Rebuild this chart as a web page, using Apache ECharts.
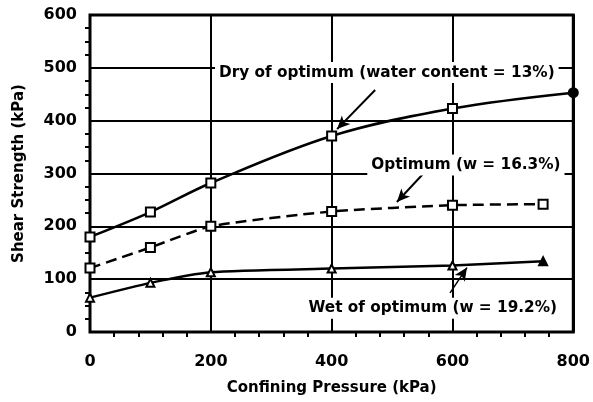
<!DOCTYPE html>
<html><head><meta charset="utf-8">
<script src="https://cdn.jsdelivr.net/npm/echarts@6/dist/echarts.min.js"></script>
<style>html,body{margin:0;padding:0;background:#fff}#c{width:593px;height:402px}</style>
</head><body><div id="c"></div>
<script>
// Data
const dryX = [0, 100, 200, 400, 600, 800];
const dryY = [180, 227, 282, 371, 423, 453];
const optX = [0, 100, 200, 400, 600, 750];
const optY = [121, 160, 200, 228, 240, 242];
const wetX = [0, 100, 200, 400, 600, 750];
const wetY = [65, 93, 113, 120, 126, 134];
const xTicks = [0, 200, 400, 600, 800];
const yTicks = [0, 100, 200, 300, 400, 500, 600];
const labelTexts = ['Dry of optimum (water content = 13%)', 'Optimum (w = 16.3%)', 'Wet of optimum (w = 19.2%)'];
const labelAnchors = [[207, 491], [459, 316], [355, 45]];
const arrows = [[[472, 458], [409, 384]], [[560, 310], [508, 246]], [[596, 74], [624, 122]]];

const FONT = 'DejaVu Sans';
const chart = echarts.init(document.getElementById('c'), null, {renderer: 'canvas'});
function pts(xs, ys) { return xs.map((x, i) => [x, ys[i]]); }
function arrowLine(a) {
  return [{coord: a[0], symbol: 'none'}, {coord: a[1], symbol: 'arrow', symbolSize: [9, 13]}];
}
const blk = '#000';
const option = {
  animation: false,
  grid: {left: 90, right: 17, top: 15, bottom: 70, show: true, borderColor: blk, borderWidth: 3},
  xAxis: {
    type: 'value', min: 0, max: 800, interval: 200,
    name: 'Confining Pressure (kPa)', nameLocation: 'middle', nameGap: 49,
    nameTextStyle: {fontFamily: FONT, fontWeight: 'bold', fontSize: 15, color: blk},
    axisLine: {show: false},
    axisTick: {show: false},
    minorTick: {show: true, splitNumber: 5, length: 5, lineStyle: {color: blk, width: 2}},
    axisLabel: {fontFamily: FONT, fontWeight: 'bold', fontSize: 16, color: blk, margin: 22,
      formatter: v => xTicks.includes(v) ? String(v) : ''},
    splitLine: {show: true, lineStyle: {color: blk, width: 2}}
  },
  yAxis: {
    type: 'value', min: 0, max: 600, interval: 100,
    name: 'Shear Strength (kPa)', nameLocation: 'middle', nameGap: 63, nameRotate: 90,
    nameTextStyle: {fontFamily: FONT, fontWeight: 'bold', fontSize: 15, color: blk},
    axisLine: {show: false},
    axisTick: {show: false},
    minorTick: {show: true, splitNumber: 4, length: 5, lineStyle: {color: blk, width: 2}},
    axisLabel: {fontFamily: FONT, fontWeight: 'bold', fontSize: 16, color: blk, margin: 13,
      formatter: v => yTicks.includes(v) ? String(v) : ''},
    splitLine: {show: true, lineStyle: {color: blk, width: 2}}
  },
  series: [
    {
      type: 'line', data: pts(dryX, dryY), smooth: 0.35, z: 5,
      lineStyle: {color: blk, width: 2.5},
      symbol: 'rect', symbolSize: 9,
      itemStyle: {color: '#fff', borderColor: blk, borderWidth: 2},
      markLine: {silent: true, symbol: ['none', 'arrow'], label: {show: false},
        lineStyle: {color: blk, width: 2, type: 'solid'}, data: [arrowLine(arrows[0])]}
    },
    {
      type: 'line', data: pts(optX, optY), smooth: 0.2, z: 5,
      lineStyle: {color: blk, width: 2.5, type: [11, 6]},
      symbol: 'rect', symbolSize: 9,
      itemStyle: {color: '#fff', borderColor: blk, borderWidth: 2},
      markLine: {silent: true, symbol: ['none', 'arrow'], label: {show: false},
        lineStyle: {color: blk, width: 2, type: 'solid'}, data: [arrowLine(arrows[1])]}
    },
    {
      type: 'line', data: pts(wetX, wetY), smooth: 0.2, z: 5,
      lineStyle: {color: blk, width: 2.5},
      symbol: 'triangle', symbolSize: 8,
      itemStyle: {color: '#fff', borderColor: blk, borderWidth: 2},
      markLine: {silent: true, symbol: ['none', 'arrow'], label: {show: false},
        lineStyle: {color: blk, width: 1.5, type: 'solid'}, data: [arrowLine(arrows[2])]}
    }
  ]
};
// last markers filled
option.series[2].data[wetX.length - 1] = {value: [wetX[wetX.length - 1], wetY[wetY.length - 1]], itemStyle: {color: blk}};
option.series[0].data[dryX.length - 1] = {value: [dryX[dryX.length - 1], dryY[dryY.length - 1]], symbol: 'circle', itemStyle: {color: blk}};
chart.setOption(option);
const gfx = labelTexts.map((t, i) => {
  const p = chart.convertToPixel({gridIndex: 0}, labelAnchors[i]);
  return {
    type: 'text', x: p[0], y: p[1], z: 100,
    style: {text: t, fontFamily: FONT, fontWeight: 'bold', fontSize: 15.3, fill: blk,
      align: 'left', verticalAlign: 'middle', backgroundColor: '#fff', padding: [3, 4]}
  };
});
chart.setOption({graphic: gfx});
</script></body></html>
